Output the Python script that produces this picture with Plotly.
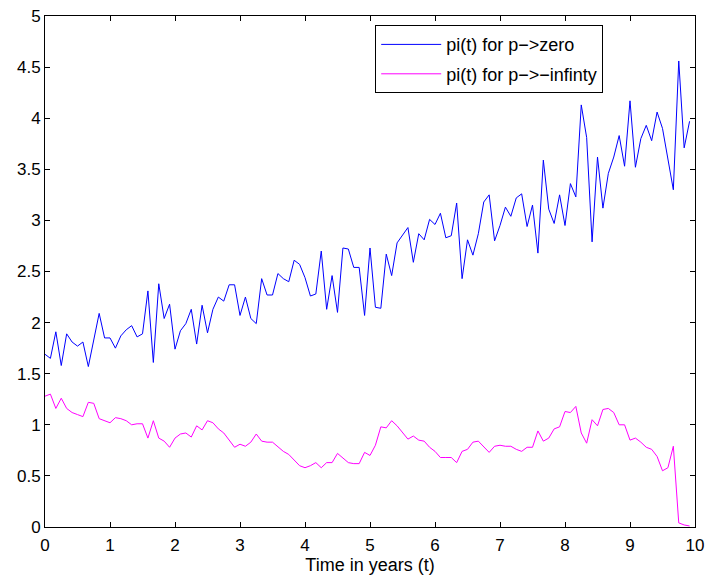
import plotly.graph_objects as go

months = list(range(120))
t_years = [m / 12 for m in months]

pi_zero = [
    1.69, 1.65, 1.91, 1.58, 1.89, 1.81, 1.77, 1.81, 1.57, 1.83,
    2.09, 1.85, 1.85, 1.75, 1.87, 1.93, 1.97, 1.86, 1.89, 2.31,
    1.61, 2.38, 2.04, 2.18, 1.74, 1.92, 1.99, 2.13, 1.79, 2.17,
    1.90, 2.13, 2.25, 2.21, 2.37, 2.37, 2.07, 2.25, 2.04, 1.99,
    2.43, 2.27, 2.27, 2.48, 2.43, 2.40, 2.61, 2.57, 2.44, 2.26,
    2.28, 2.70, 2.13, 2.46, 2.10, 2.73, 2.72, 2.54, 2.54, 2.07,
    2.73, 2.15, 2.14, 2.67, 2.46, 2.78, 2.86, 2.93, 2.59, 2.87,
    2.81, 3.01, 2.96, 3.07, 2.83, 2.85, 3.17, 2.43, 2.81, 2.66,
    2.87, 3.18, 3.25, 2.80, 2.95, 3.13, 3.04, 3.22, 3.26, 2.94,
    3.15, 2.68, 3.59, 3.11, 2.97, 3.25, 2.95, 3.36, 3.23, 4.13,
    3.81, 2.79, 3.62, 3.12, 3.46, 3.62, 3.83, 3.53, 4.17, 3.52,
    3.80, 3.93, 3.78, 4.06, 3.90, 3.59, 3.30, 4.56, 3.71, 3.97,
]

pi_neg_inf = [
    1.28, 1.30, 1.16, 1.26, 1.16, 1.12, 1.10, 1.08, 1.22, 1.21,
    1.06, 1.04, 1.02, 1.07, 1.06, 1.04, 1.00, 1.01, 1.01, 0.87,
    1.04, 0.87, 0.84, 0.78, 0.87, 0.91, 0.92, 0.88, 0.99, 0.95,
    1.04, 1.02, 0.96, 0.92, 0.85, 0.78, 0.81, 0.79, 0.83, 0.91,
    0.84, 0.83, 0.83, 0.78, 0.74, 0.71, 0.66, 0.60, 0.58, 0.60,
    0.63, 0.58, 0.63, 0.63, 0.72, 0.67, 0.63, 0.62, 0.62, 0.73,
    0.70, 0.80, 0.98, 0.97, 1.04, 0.99, 0.93, 0.86, 0.89, 0.85,
    0.84, 0.78, 0.74, 0.68, 0.68, 0.68, 0.63, 0.74, 0.76, 0.83,
    0.84, 0.79, 0.73, 0.79, 0.80, 0.79, 0.79, 0.76, 0.74, 0.78,
    0.78, 0.94, 0.84, 0.87, 0.96, 0.98, 1.13, 1.12, 1.18, 0.92,
    0.82, 1.05, 0.99, 1.15, 1.16, 1.12, 1.00, 1.00, 0.85, 0.87,
    0.83, 0.78, 0.76, 0.69, 0.55, 0.58, 0.79, 0.04, 0.02, 0.01,
]

x_ticks = list(range(0, 11))
y_ticks = [0, 0.5, 1, 1.5, 2, 2.5, 3, 3.5, 4, 4.5, 5]
y_tick_text = ["0", "0.5", "1", "1.5", "2", "2.5", "3", "3.5", "4", "4.5", "5"]

FONT = "Liberation Sans, Arial, Helvetica"

fig = go.Figure()
fig.add_trace(go.Scatter(x=t_years, y=pi_zero, mode="lines",
                         name="pi(t) for p\u2212>zero", legendgroup="a",
                         line=dict(color="#0000ff", width=1)))
fig.add_trace(go.Scatter(x=t_years, y=pi_neg_inf, mode="lines",
                         name="pi(t) for p\u2212>\u2212infinty", legendgroup="b",
                         line=dict(color="#ff00ff", width=1)))

axis_common = dict(
    showgrid=False, zeroline=False, showline=True, linecolor="black",
    linewidth=1, mirror="ticks", ticks="inside", ticklen=5,
    tickcolor="black", automargin=False,
    tickfont=dict(family=FONT, size=17, color="black"),
)

fig.update_layout(
    width=706, height=577,
    margin=dict(l=45, r=11, t=16, b=50),
    paper_bgcolor="white", plot_bgcolor="white",
    font=dict(family=FONT, size=17, color="black"),
    xaxis=dict(range=[0, 10], tickvals=x_ticks, ticklabelstandoff=3,
               title=dict(text="Time in years (t)", standoff=2,
                          font=dict(family=FONT, size=18)), **axis_common),
    yaxis=dict(range=[0, 5], tickvals=y_ticks, ticktext=y_tick_text,
               **axis_common),
    legend=dict(x=0.508, y=0.982, xanchor="left", yanchor="top",
                bgcolor="white", bordercolor="black", borderwidth=1,
                font=dict(family=FONT, size=18), tracegroupgap=3,
                itemwidth=60),
    showlegend=True,
)

fig.write_html(
    "out.html",
    config={"displayModeBar": False},
    post_script="document.body.style.margin='0';document.body.style.padding='0';document.body.style.overflow='hidden';",
)
